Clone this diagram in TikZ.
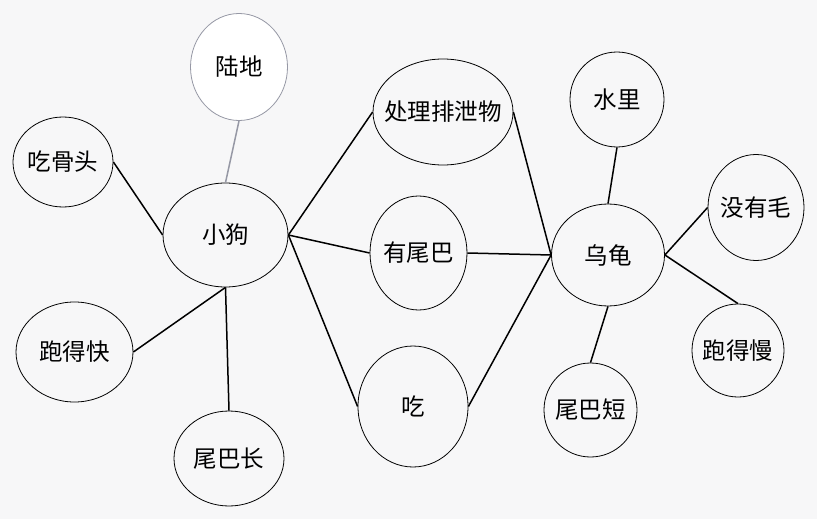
\documentclass[tikz,border=0pt]{standalone}
\usepackage{fontspec}
\setmainfont{Noto Sans CJK SC}
\usepackage{tikz}
\usetikzlibrary{shapes.geometric}
\definecolor{bg}{RGB}{247,247,248}
\definecolor{landgray}{RGB}{150,152,165}
\newcommand{\nodetext}[1]{\makebox[0pt]{#1}}

\begin{document}
\begin{tikzpicture}[x=1pt,y=-1pt]
        \tikzstyle{main node}=[draw,ellipse,fill=bg,line width=0.8pt,inner sep=0pt,font=\fontsize{23.5}{27}\selectfont]
        \tikzstyle{link}=[line width=1.5pt]
        \fill[bg] (0,0) rectangle (817,519);
        \useasboundingbox (0,0) rectangle (817,519);

        \node[main node,minimum width=97pt,minimum height=107pt,fill=white,draw=landgray] (land) at (239,67) {\nodetext{陆地}};
        \node[main node,minimum width=125pt,minimum height=104pt] (dog) at (225.5,235) {\nodetext{小狗}};
        \node[main node,minimum width=100pt,minimum height=90pt] (bone) at (63,162) {\nodetext{吃骨头}};
        \node[main node,minimum width=117pt,minimum height=100pt] (fast) at (74.5,352) {\nodetext{跑得快}};
        \node[main node,minimum width=110pt,minimum height=95pt] (longtail) at (229,458.5) {\nodetext{尾巴长}};
        \node[main node,minimum width=140pt,minimum height=106pt] (waste) at (443,112) {\nodetext{处理排泄物}};
        \node[main node,minimum width=97pt,minimum height=114pt] (tail) at (418.5,253) {\nodetext{有尾巴}};
        \node[main node,minimum width=110pt,minimum height=121pt] (eat) at (413,406.5) {\nodetext{吃}};
        \node[main node,minimum width=113pt,minimum height=102pt] (turtle) at (608,255) {\nodetext{乌龟}};
        \node[main node,minimum width=94pt,minimum height=95pt] (water) at (617,99.5) {\nodetext{水里}};
        \node[main node,minimum width=96pt,minimum height=106pt] (nohair) at (756,207.5) {\nodetext{没有毛}};
        \node[main node,minimum width=92pt,minimum height=93pt] (slow) at (738,350.5) {\nodetext{跑得慢}};
        \node[main node,minimum width=93pt,minimum height=94pt] (shorttail) at (590.5,410) {\nodetext{尾巴短}};

        \draw[link,draw=landgray] (land.south) -- (dog.north);
        \draw[link] (bone.east) -- (dog.west);
        \draw[link] (fast.east) -- (dog.south);
        \draw[link] (longtail.north) -- (dog.south);
        \draw[link] (dog.east) -- (waste.west);
        \draw[link] (dog.east) -- (tail.west);
        \draw[link] (dog.east) -- (eat.west);
        \draw[link] (waste.east) -- (turtle.west);
        \draw[link] (tail.east) -- (turtle.west);
        \draw[link] (eat.east) -- (turtle.west);
        \draw[link] (water.south) -- (turtle.north);
        \draw[link] (turtle.east) -- (nohair.west);
        \draw[link] (turtle.east) -- (slow.north);
        \draw[link] (turtle.south) -- (shorttail.north);
    \end{tikzpicture}
\end{document}
